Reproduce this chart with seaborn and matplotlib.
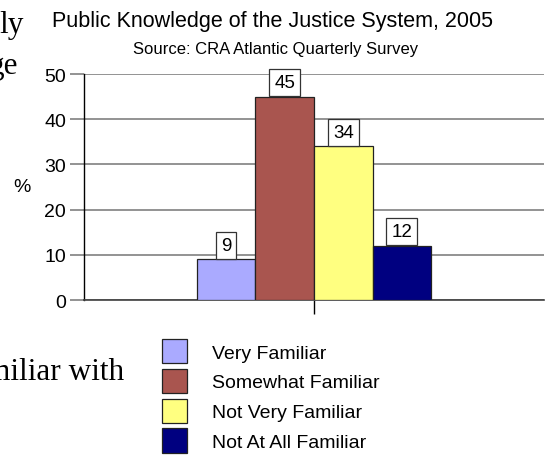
import matplotlib
matplotlib.use("Agg")
import matplotlib.pyplot as plt
import seaborn as sns
import pandas as pd

# Survey responses (percent of respondents)
categories = ["Very Familiar", "Somewhat Familiar", "Not Very Familiar", "Not At All Familiar"]
values = [9, 45, 34, 12]
colors = ["#AAAAFF", "#A9554F", "#FFFF80", "#000080"]
y_ticks = [0, 10, 20, 30, 40, 50]

df = pd.DataFrame({"group": [""] * len(categories), "familiarity": categories, "pct": values})

sns.set_theme(style="white")
plt.rcParams["font.family"] = ["Liberation Sans", "DejaVu Sans"]
plt.rcParams["text.color"] = "black"
plt.rcParams["ytick.color"] = "black"
plt.rcParams["xtick.color"] = "black"

fig = plt.figure(figsize=(5.47, 4.56), dpi=100)
ax = fig.add_axes([84 / 547, 1 - 301 / 456, 460 / 547, 226 / 456])

sns.barplot(data=df, x="group", y="pct", hue="familiarity", hue_order=categories,
            palette=colors, width=0.51, edgecolor="#222222", linewidth=0.9,
            saturation=1, ax=ax, legend=True, zorder=3)

ax.set_xlim(-0.5, 0.5)
ax.set_ylim(0, 50)
ax.set_yticks(y_ticks)
ax.set_yticklabels([str(t) for t in y_ticks], fontsize=14, color="black")
ax.set_xticks([0])
ax.set_xticklabels([""])
ax.set_xlabel("")
ax.set_ylabel("")

ax.yaxis.grid(True, color="#808080", linewidth=1.2, zorder=0)
ax.set_axisbelow(True)
ax.tick_params(axis="y", length=10, width=1.2, color="#808080", pad=3, left=True)
ax.tick_params(axis="x", length=10, width=1, color="black", bottom=True, direction="out")

for side in ["top", "right"]:
    ax.spines[side].set_visible(False)
ax.spines["left"].set_color("black")
ax.spines["left"].set_linewidth(1)
ax.spines["bottom"].set_color("#404040")
ax.spines["bottom"].set_linewidth(1.2)

# value boxes above each bar
for cont, v in zip(ax.containers, values):
    ax.bar_label(cont, labels=[str(v)], padding=4, fontsize=13.5, color="black",
                 bbox=dict(boxstyle="square,pad=0.27", fc="white", ec="#333333", lw=0.9),
                 zorder=5)

# legend below the plot
handles, labels = ax.get_legend_handles_labels()
ax.legend(handles, labels, loc="upper left", bbox_to_anchor=(162 / 547, 1 - 340 / 456),
          bbox_transform=fig.transFigure, frameon=False, fontsize=14,
          handlelength=1.29, handleheight=1.55, labelspacing=0.28, handletextpad=1.29,
          borderpad=0, borderaxespad=0)

fig.text(272 / 547, 1 - 27 / 456, "Public Knowledge of the Justice System, 2005",
         ha="center", va="baseline", fontsize=15.5)
fig.text(276 / 547, 1 - 54 / 456, "Source: CRA Atlantic Quarterly Survey",
         ha="center", va="baseline", fontsize=12)
fig.text(22 / 547, 1 - 187 / 456, "%", ha="center", va="center", fontsize=14)

# slide text surrounding the chart
serif = ["Liberation Serif", "DejaVu Serif"]
fig.text(24 / 547, 1 - 33 / 456, "ly", ha="right", va="baseline", fontsize=22.5, family=serif)
fig.text(18 / 547, 1 - 74 / 456, "ge", ha="right", va="baseline", fontsize=22.5, family=serif)
fig.text(124 / 547, 1 - 380 / 456, "miliar with", ha="right", va="baseline", fontsize=22.5, family=serif)

fig.savefig("out.png", dpi=100)
